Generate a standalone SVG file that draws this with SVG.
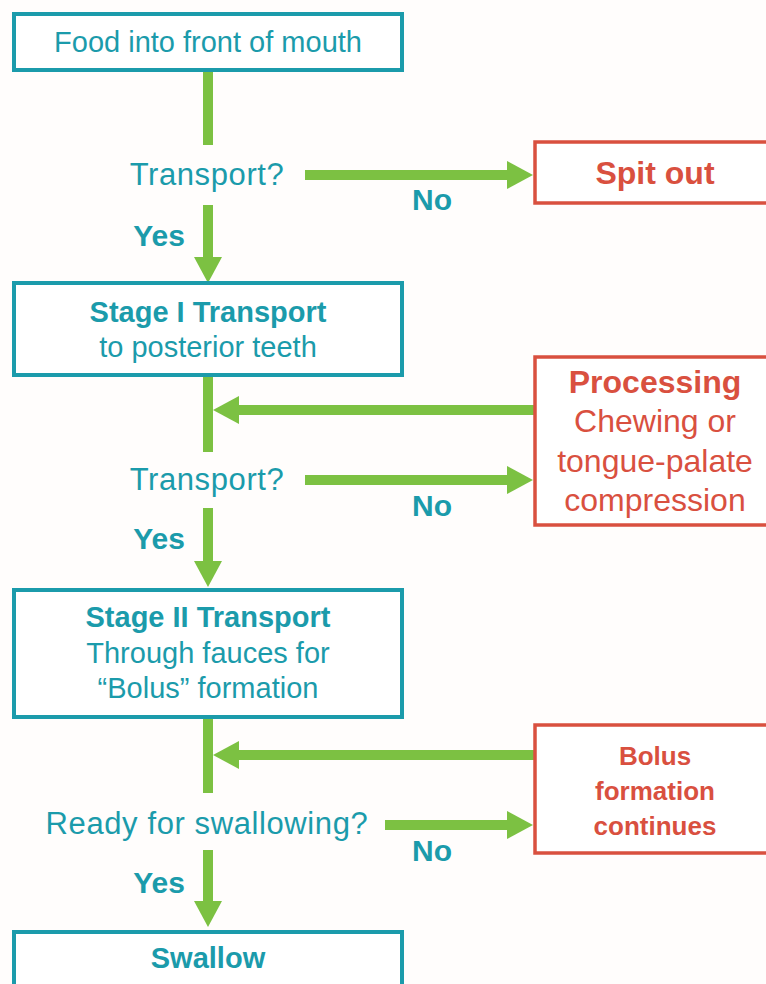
<svg xmlns="http://www.w3.org/2000/svg" width="766" height="984" viewBox="0 0 766 984">
<style>
.bg{fill:#fffdfc}
.tbox{fill:#ffffff;stroke:#1b9bab;stroke-width:4}
.rbox{fill:#ffffff;stroke:#d9503f;stroke-width:3.5}
.tt{font-family:"Liberation Sans",Arial,sans-serif;fill:#1b9bab;text-anchor:middle}
.rt{font-family:"Liberation Sans",Arial,sans-serif;fill:#d9503f;text-anchor:middle}
.box{font-size:29px}
.dec{font-size:31px;letter-spacing:0.6px}
.lbl{font-size:30px;font-weight:bold}
.b{font-weight:bold}
.red{font-size:32px}
.bol{font-size:26px;font-weight:bold}
.con{stroke:#7cc142;stroke-width:10;fill:none}
.arr{marker-end:url(#ah)}
</style>
<defs>
<marker id="ah" markerUnits="userSpaceOnUse" viewBox="0 0 26 28" markerWidth="26" markerHeight="28" refX="11" refY="14" orient="auto">
<path d="M0,0 L26,14 L0,28 Z" fill="#7cc142"/>
</marker>
</defs>
<rect class="bg" x="0" y="0" width="766" height="984"/>
<g id="connectors">
<line class="con" x1="208" y1="70" x2="208" y2="145"/>
<line class="con arr" x1="305" y1="175" x2="518" y2="175"/>
<line class="con arr" x1="208" y1="205" x2="208" y2="268"/>
<line class="con" x1="208" y1="375" x2="208" y2="452"/>
<line class="con arr" x1="535" y1="410" x2="228" y2="410"/>
<line class="con arr" x1="305" y1="480" x2="518" y2="480"/>
<line class="con arr" x1="208" y1="508" x2="208" y2="572"/>
<line class="con" x1="208" y1="717" x2="208" y2="793"/>
<line class="con arr" x1="535" y1="755" x2="228" y2="755"/>
<line class="con arr" x1="385" y1="825" x2="518" y2="825"/>
<line class="con arr" x1="208" y1="850" x2="208" y2="912"/>
</g>
<g id="n-food">
<rect class="tbox" x="14" y="14" width="388" height="56"/>
<text class="tt box" x="208" y="52">Food into front of mouth</text>
</g>
<g id="n-transport1">
<text class="tt dec" x="207" y="185">Transport?</text>
</g>
<g id="l-no1"><text class="tt lbl" x="432" y="210">No</text></g>
<g id="l-yes1"><text class="tt lbl" x="159" y="246">Yes</text></g>
<g id="n-spit">
<rect class="rbox" x="535" y="142" width="240" height="61"/>
<text class="rt red b" x="655" y="184">Spit out</text>
</g>
<g id="n-stage1">
<rect class="tbox" x="14" y="283" width="388" height="92"/>
<text class="tt box b" x="208" y="322">Stage I Transport</text>
<text class="tt box" x="208" y="357">to posterior teeth</text>
</g>
<g id="n-transport2">
<text class="tt dec" x="207" y="490">Transport?</text>
</g>
<g id="l-no2"><text class="tt lbl" x="432" y="516">No</text></g>
<g id="l-yes2"><text class="tt lbl" x="159" y="549">Yes</text></g>
<g id="n-processing">
<rect class="rbox" x="535" y="357" width="240" height="168"/>
<text class="rt red b" x="655" y="393">Processing</text>
<text class="rt red" x="655" y="432">Chewing or</text>
<text class="rt red" x="655" y="472">tongue-palate</text>
<text class="rt red" x="655" y="511">compression</text>
</g>
<g id="n-stage2">
<rect class="tbox" x="14" y="590" width="388" height="127"/>
<text class="tt box b" x="208" y="627">Stage II Transport</text>
<text class="tt box" x="208" y="663">Through fauces for</text>
<text class="tt box" x="208" y="698">“Bolus” formation</text>
</g>
<g id="n-ready">
<text class="tt dec" x="207" y="834">Ready for swallowing?</text>
</g>
<g id="l-no3"><text class="tt lbl" x="432" y="861">No</text></g>
<g id="l-yes3"><text class="tt lbl" x="159" y="893">Yes</text></g>
<g id="n-bolus">
<rect class="rbox" x="535" y="725" width="240" height="128"/>
<text class="rt bol" x="655" y="765">Bolus</text>
<text class="rt bol" x="655" y="800">formation</text>
<text class="rt bol" x="655" y="835">continues</text>
</g>
<g id="n-swallow">
<rect class="tbox" x="14" y="932" width="388" height="70"/>
<text class="tt box b" x="208" y="968">Swallow</text>
</g>
</svg>
